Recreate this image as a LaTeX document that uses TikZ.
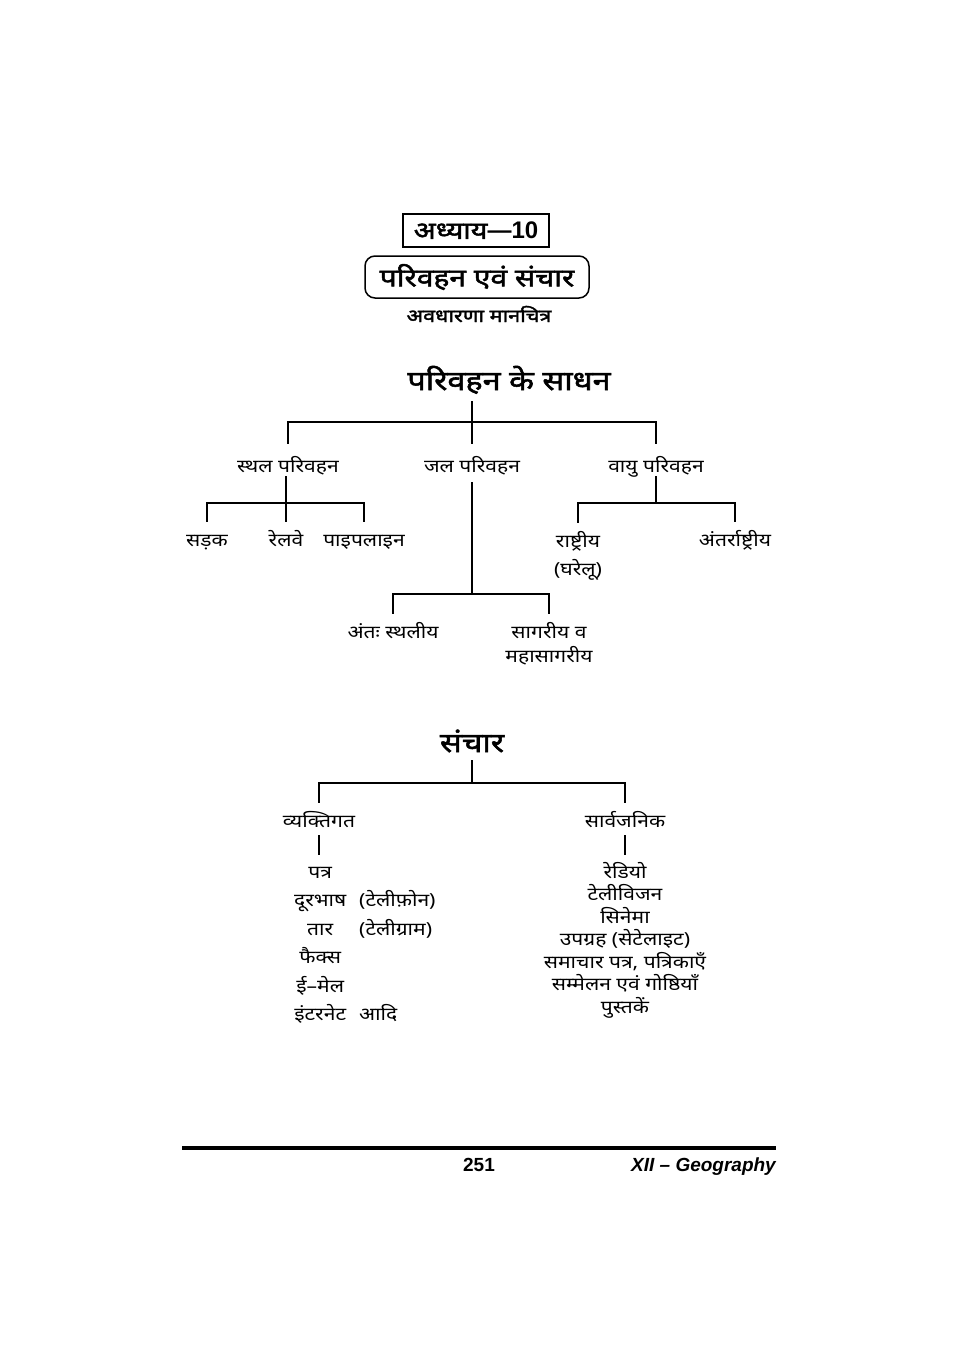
\documentclass[tikz,border=0pt]{standalone}
\usepackage{fontspec}
\usepackage{array}
\newfontfamily\hindi[Script=Devanagari, FakeStretch=1.17]{Noto Sans}
\newfontfamily\hindib[Script=Devanagari, FakeStretch=1.2, FakeBold=2]{Noto Sans}
\newfontfamily\arialfont{Liberation Sans}

\begin{document}
\begin{tikzpicture}[x=1pt, y=-1pt,
    lbl/.style={font=\hindi\fontsize{18}{28}\selectfont, inner sep=0pt, anchor=base, text height=13pt, text depth=4pt},
    head/.style={font=\hindib\fontsize{27}{30}\selectfont, inner sep=0pt, anchor=base, text height=18pt, text depth=4pt},
    link/.style={line width=1.6pt},
    gap/.style={shorten <=#1, shorten >=#1}]
\useasboundingbox (0,0) rectangle (958,1355);

% Chapter heading
\node[draw, line width=1.5pt, minimum width=146pt, minimum height=33pt, inner sep=0pt, font=\hindib\fontsize{24}{26}\selectfont] (adhyay) at (476,230.5) {अध्याय{\arialfont\bfseries—10}};
\node[draw, line width=1.5pt, rounded corners=10pt, minimum width=224pt, minimum height=42pt, inner sep=0pt, font=\hindib\fontsize{25}{28}\selectfont] (vishay) at (477,277) {परिवहन एवं संचार};
\node[font=\hindib\fontsize{18}{20}\selectfont, anchor=base, inner sep=0pt] (avdharna) at (479,322) {अवधारणा मानचित्र};

% Transport tree
\node[head] (sadhan) at (509,390) {परिवहन के साधन};
\coordinate (b1) at (472,422);
\node[lbl] (sthal) at (288,472) {स्थल परिवहन};
\node[lbl] (jal) at (472,472) {जल परिवहन};
\node[lbl] (vayu) at (656,472) {वायु परिवहन};

\coordinate (b2) at (286,503);
\node[lbl] (sadak) at (207,546) {सड़क};
\node[lbl] (relve) at (286,546) {रेलवे};
\node[lbl] (pipe) at (364,546) {पाइपलाइन};

\coordinate (b3) at (656,503);
\node[lbl, align=center, text height=41pt] (rashtriya) at (578,575) {राष्ट्रीय\\(घरेलू)};
\node[lbl] (antar) at (735,546) {अंतर्राष्ट्रीय};

\coordinate (b4) at (472,594);
\node[lbl] (ant) at (393,638) {अंतः स्थलीय};
\node[lbl, align=center, text height=37pt, font=\hindi\fontsize{18}{24}\selectfont] (sagar) at (549,662) {सागरीय व\\महासागरीय};

\draw[link, shorten <=7pt] (sadhan.south -| b1) -- (b1);
\draw[link, gap=15pt] (sthal.north) |- (b1) -| (vayu.north);
\draw[link, shorten >=15pt] (b1) -- (jal.north);
\draw[link] (sthal.south -| b2) -- (b2);
\draw[link, gap=11pt] (sadak.north) |- (b2) -| (pipe.north);
\draw[link, shorten >=11pt] (b2) -- (relve.north);
\draw[link] (vayu.south) -- (b3);
\draw[link, gap=11pt] (rashtriya.north) |- (b3) -| (antar.north);
\draw[link, shorten <=6pt] (jal.south) -- (b4);
\draw[link, gap=11pt] (ant.north) |- (b4) -| (sagar.north);

% Communication tree
\node[head] (sanchar) at (472,752) {संचार};
\coordinate (b5) at (472,783);
\node[lbl] (vyakti) at (319,827) {व्यक्तिगत};
\node[lbl] (sarva) at (625,827) {सार्वजनिक};

\node[font=\hindi\fontsize{18}{28.5}\selectfont, inner sep=0pt, anchor=base west] (niji) at (290,878) {\begin{tabular}[t]{@{}>{\centering}p{60pt}@{\hspace{9pt}}l@{}}
पत्र & \\
दूरभाष & (टेलीफ़ोन)\\
तार & (टेलीग्राम)\\
फैक्स & \\
ई–मेल & \\
इंटरनेट & आदि
\end{tabular}};
\node[font=\hindi\fontsize{18}{22.5}\selectfont, inner sep=0pt, anchor=base, align=center, text height=148pt] (sarvlist) at (625,1013) {रेडियो\\टेलीविजन\\सिनेमा\\उपग्रह (सेटेलाइट)\\समाचार पत्र, पत्रिकाएँ\\सम्मेलन एवं गोष्ठियाँ\\पुस्तकें};

\draw[link, shorten <=4pt] (sanchar.south) -- (b5);
\draw[link, gap=11pt] (vyakti.north) |- (b5) -| (sarva.north);
\draw[link, shorten <=4pt, shorten >=3pt] (vyakti.south) -- (vyakti.south |- niji.north);
\draw[link, shorten <=4pt, shorten >=10pt] (sarva.south) -- (sarva.south |- sarvlist.north);

% Footer
\draw[line width=3.5pt] (182,1148) -- (776,1148);
\node[font=\arialfont\bfseries\fontsize{19}{22}\selectfont, anchor=base, inner sep=0pt] (pagenum) at (479,1171) {251};
\node[font=\arialfont\bfseries\itshape\fontsize{19}{22}\selectfont, anchor=base east, inner sep=0pt] (vishaynaam) at (776,1171) {XII – Geography};
\end{tikzpicture}
\end{document}
